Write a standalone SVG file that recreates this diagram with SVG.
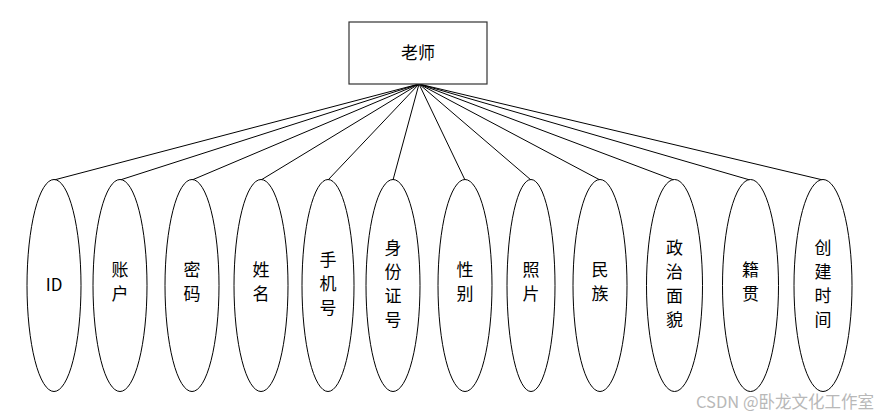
<svg xmlns="http://www.w3.org/2000/svg" width="881" height="416" viewBox="0 0 881 416">
<style>
.box{fill:#fff;stroke:#333;stroke-width:1.2}
.ell{fill:#fff;stroke:#000;stroke-width:1}
.ln{stroke:#000;stroke-width:1;fill:none}
.t{font-family:"Noto Sans CJK SC","Noto Sans",sans-serif;font-size:17px;fill:#000;text-anchor:middle}
.wm{font-family:"Noto Sans CJK SC","Noto Sans",sans-serif;font-size:16.5px;fill:#b8b8b8;text-anchor:end}
</style>
<rect width="881" height="416" fill="#fff"/>
<g id="connectors">
<line class="ln" x1="419" y1="84" x2="54" y2="180"/>
<line class="ln" x1="419" y1="84" x2="120" y2="180"/>
<line class="ln" x1="419" y1="84" x2="192" y2="180"/>
<line class="ln" x1="419" y1="84" x2="261" y2="180"/>
<line class="ln" x1="419" y1="84" x2="328" y2="180"/>
<line class="ln" x1="419" y1="84" x2="393" y2="180"/>
<line class="ln" x1="419" y1="84" x2="465" y2="180"/>
<line class="ln" x1="419" y1="84" x2="531" y2="180"/>
<line class="ln" x1="419" y1="84" x2="600" y2="180"/>
<line class="ln" x1="419" y1="84" x2="674" y2="180"/>
<line class="ln" x1="419" y1="84" x2="750" y2="180"/>
<line class="ln" x1="419" y1="84" x2="823" y2="180"/>
</g>
<g id="teacher">
<rect class="box" x="349" y="22" width="138" height="62"/>
<text class="t" x="418" y="59">老师</text>
</g>
<g id="a1"><ellipse class="ell" cx="54" cy="285.5" rx="27" ry="106"/><text class="t" x="54" y="291">ID</text></g>
<g id="a2"><ellipse class="ell" cx="120" cy="285.5" rx="27" ry="106"/><text class="t" x="120" y="276">账</text><text class="t" x="120" y="300">户</text></g>
<g id="a3"><ellipse class="ell" cx="192" cy="285.5" rx="27" ry="106"/><text class="t" x="192" y="276">密</text><text class="t" x="192" y="300">码</text></g>
<g id="a4"><ellipse class="ell" cx="261" cy="285.5" rx="27" ry="106"/><text class="t" x="261" y="276">姓</text><text class="t" x="261" y="300">名</text></g>
<g id="a5"><ellipse class="ell" cx="328" cy="285.5" rx="26" ry="106"/><text class="t" x="328" y="266">手</text><text class="t" x="328" y="290">机</text><text class="t" x="328" y="314">号</text></g>
<g id="a6"><ellipse class="ell" cx="393" cy="285.5" rx="27" ry="106"/><text class="t" x="393" y="254">身</text><text class="t" x="393" y="278">份</text><text class="t" x="393" y="302">证</text><text class="t" x="393" y="326">号</text></g>
<g id="a7"><ellipse class="ell" cx="465" cy="285.5" rx="27" ry="106"/><text class="t" x="465" y="276">性</text><text class="t" x="465" y="300">别</text></g>
<g id="a8"><ellipse class="ell" cx="531" cy="285.5" rx="24" ry="106"/><text class="t" x="531" y="276">照</text><text class="t" x="531" y="300">片</text></g>
<g id="a9"><ellipse class="ell" cx="600" cy="285.5" rx="27" ry="106"/><text class="t" x="600" y="276">民</text><text class="t" x="600" y="300">族</text></g>
<g id="a10"><ellipse class="ell" cx="674.5" cy="285.5" rx="28" ry="106"/><text class="t" x="674.5" y="254">政</text><text class="t" x="674.5" y="278">治</text><text class="t" x="674.5" y="302">面</text><text class="t" x="674.5" y="326">貌</text></g>
<g id="a11"><ellipse class="ell" cx="750.5" cy="285.5" rx="28" ry="106"/><text class="t" x="750.5" y="276">籍</text><text class="t" x="750.5" y="300">贯</text></g>
<g id="a12"><ellipse class="ell" cx="823" cy="285.5" rx="29" ry="106"/><text class="t" x="823" y="254">创</text><text class="t" x="823" y="278">建</text><text class="t" x="823" y="302">时</text><text class="t" x="823" y="326">间</text></g>
<text class="wm" x="874" y="408">CSDN @卧龙文化工作室</text>
</svg>
